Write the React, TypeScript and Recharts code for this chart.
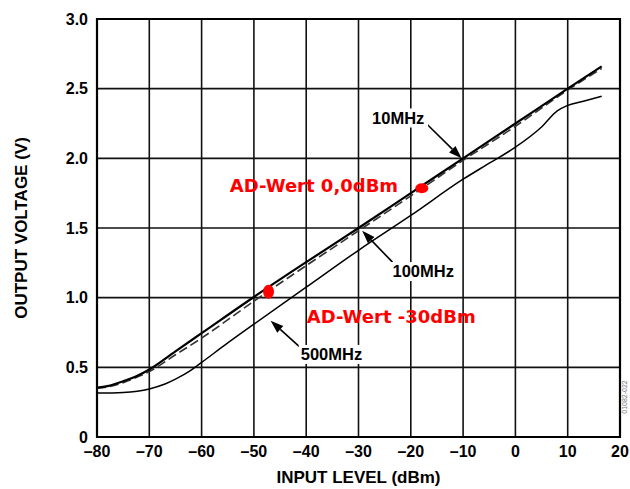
import {
  LineChart,
  Line,
  XAxis,
  YAxis,
  CartesianGrid,
  ReferenceArea,
  ReferenceDot,
  ReferenceLine,
  Label,
} from 'recharts'

const FONT = '"Liberation Sans", Arial, Helvetica, sans-serif'
const RED_FONT = '"DejaVu Sans", Verdana, sans-serif'

// input level (dBm) -> output voltage (V)
const input10MHz = [-80, -78, -75, -72, -70, -65, -60, -50, -40, -30, -20, -10, 0, 10, 16.5]
const output10MHz = [0.355, 0.365, 0.4, 0.445, 0.485, 0.615, 0.745, 1.005, 1.255, 1.5, 1.75, 2.0, 2.25, 2.5, 2.66]

const input100MHz = [-80, -78, -75, -72, -70, -65, -60, -50, -40, -30, -20, -10, 0, 10, 16.5]
const output100MHz = [0.35, 0.36, 0.39, 0.435, 0.47, 0.59, 0.71, 0.975, 1.23, 1.48, 1.73, 1.985, 2.23, 2.49, 2.645]

const input500MHz = [-80, -75, -70, -67, -65, -62, -60, -55, -50, -40, -30, -20, -10, -5, 0, 5, 8, 10, 13, 16.5]
const output500MHz = [0.315, 0.32, 0.345, 0.38, 0.415, 0.48, 0.535, 0.675, 0.81, 1.075, 1.34, 1.59, 1.85, 1.965, 2.08, 2.225, 2.34, 2.38, 2.41, 2.445]

const xTicks = [-80, -70, -60, -50, -40, -30, -20, -10, 0, 10, 20]
const yTicks = [0, 0.5, 1.0, 1.5, 2.0, 2.5, 3.0]

const series10 = input10MHz.map((x, i) => ({ x, v: output10MHz[i] }))
const series100 = input100MHz.map((x, i) => ({ x, v: output100MHz[i] }))
const series500 = input500MHz.map((x, i) => ({ x, v: output500MHz[i] }))

// curve labels: text, label anchor, arrow tail, arrow tip (data coordinates)
const curveLabels = [
  { text: '10MHz', at: [-27.4, 2.25], tail: [-16.9, 2.245], tip: [-10.3, 2.0], w: 54 },
  { text: '100MHz', at: [-23.5, 1.148], tail: [-23.5, 1.255], tip: [-29.3, 1.48], w: 63 },
  { text: '500MHz', at: [-41.05, 0.553], tail: [-41.2, 0.645], tip: [-46.8, 0.835], w: 63 },
]

// red hand-written marks
const redNotes = [
  { text: 'AD-Wert 0,0dBm', at: [-54.6, 1.758] },
  { text: 'AD-Wert -30dBm', at: [-39.9, 0.818] },
]
const redBlobs = [
  { at: [-17.9, 1.785], rx: 6.5, ry: 5 },
  { at: [-47.2, 1.043], rx: 5.5, ry: 7 },
]

const fmtX = (v: number) => (v < 0 ? `\u2013${-v}` : `${v}`)
const fmtY = (v: number) => (v === 0 ? '0' : v.toFixed(1))

function Arrow(props: any) {
  const { x1, y1, x2, y2 } = props
  const dx = x2 - x1
  const dy = y2 - y1
  const len = Math.hypot(dx, dy) || 1
  const ux = dx / len
  const uy = dy / len
  const hl = 13
  const hw = 4.5
  const bx = x2 - ux * hl
  const by = y2 - uy * hl
  return (
    <g>
      <line x1={x1} y1={y1} x2={bx} y2={by} stroke="#000" strokeWidth={1.6} />
      <polygon
        points={`${x2},${y2} ${bx - uy * hw},${by + ux * hw} ${bx + uy * hw},${by - ux * hw}`}
        fill="#000"
      />
    </g>
  )
}

export default function App() {
  return (
    <div style={{ position: 'absolute', left: 0, top: 0, width: 630, height: 489, background: '#fff' }}>
      <LineChart
        width={630}
        height={489}
        margin={{ top: 19, right: 10, bottom: 22, left: 37 }}
      >
        <CartesianGrid stroke="#111" strokeWidth={1.6} strokeOpacity={1} />
        <XAxis
          type="number"
          dataKey="x"
          domain={[-80, 20]}
          ticks={xTicks}
          tickFormatter={fmtX}
          axisLine={false}
          tickLine={false}
          tickSize={8}
          tickMargin={1}
          height={30}
          allowDataOverflow
          tick={{ fill: '#000', fontSize: 16, fontWeight: 'bold', fontFamily: FONT }}
        >
          <Label
            content={(p: any) => (
              <text
                x={p.viewBox.x + p.viewBox.width / 2}
                y={483}
                textAnchor="middle"
                fontFamily={FONT}
                fontWeight="bold"
                fontSize={17}
                fill="#000"
              >
                INPUT LEVEL (dBm)
              </text>
            )}
          />
        </XAxis>
        <YAxis
          type="number"
          domain={[0, 3]}
          ticks={yTicks}
          tickFormatter={fmtY}
          axisLine={false}
          tickLine={false}
          tickSize={8}
          tickMargin={1}
          width={60}
          tick={{ fill: '#000', fontSize: 16, fontWeight: 'bold', fontFamily: FONT }}
        >
          <Label
            content={(p: any) => {
              const cy = p.viewBox.y + p.viewBox.height / 2
              return (
                <text
                  x={27}
                  y={cy}
                  transform={`rotate(-90 27 ${cy})`}
                  textAnchor="middle"
                  fontFamily={FONT}
                  fontWeight="bold"
                  fontSize={17}
                  fill="#000"
                >
                  OUTPUT VOLTAGE (V)
                </text>
              )
            }}
          />
        </YAxis>

        <ReferenceArea x1={-80} x2={20} y1={0} y2={3} fill="none" stroke="#000" strokeWidth={2.2} ifOverflow="visible" />

        <Line
          data={series500}
          dataKey="v"
          type="monotone"
          stroke="#000"
          strokeWidth={1.5}
          dot={false}
          isAnimationActive={false}
        />
        <Line
          data={series100}
          dataKey="v"
          type="monotone"
          stroke="#333"
          strokeWidth={1.6}
          strokeDasharray="9 4"
          dot={false}
          isAnimationActive={false}
        />
        <Line
          data={series10}
          dataKey="v"
          type="monotone"
          stroke="#000"
          strokeWidth={2.2}
          dot={false}
          isAnimationActive={false}
        />

        {curveLabels.map((c) => (
          <ReferenceDot
            key={`t-${c.text}`}
            x={c.at[0]}
            y={c.at[1]}
            r={1}
            ifOverflow="visible"
            shape={(p: any) => (
              <g>
                <rect x={p.cx - 2} y={p.cy - 15} width={c.w + 4} height={19} fill="#fff" />
                <text
                  x={p.cx}
                  y={p.cy}
                  fontFamily={FONT}
                  fontWeight="bold"
                  fontSize={16.5}
                  fill="#000"
                >
                  {c.text}
                </text>
              </g>
            )}
          />
        ))}
        {curveLabels.map((c) => (
          <ReferenceLine
            key={`a-${c.text}`}
            segment={[
              { x: c.tail[0], y: c.tail[1] },
              { x: c.tip[0], y: c.tip[1] },
            ]}
            ifOverflow="visible"
            shape={Arrow}
          />
        ))}

        {redNotes.map((n) => (
          <ReferenceDot
            key={n.text}
            x={n.at[0]}
            y={n.at[1]}
            r={1}
            ifOverflow="visible"
            shape={(p: any) => (
              <text
                x={p.cx}
                y={p.cy}
                fontFamily={RED_FONT}
                fontWeight="bold"
                fontSize={18}
                fill="#ff0000"
              >
                {n.text}
              </text>
            )}
          />
        ))}
        {redBlobs.map((b, i) => (
          <ReferenceDot
            key={`b-${i}`}
            x={b.at[0]}
            y={b.at[1]}
            r={1}
            ifOverflow="visible"
            shape={(p: any) => (
              <ellipse cx={p.cx} cy={p.cy} rx={b.rx} ry={b.ry} fill="#ff0000" />
            )}
          />
        ))}
      </LineChart>
      <div
        style={{
          position: 'absolute',
          left: 600,
          top: 393,
          width: 50,
          textAlign: 'center',
          transform: 'rotate(-90deg)',
          fontFamily: FONT,
          fontSize: 7,
          color: '#777',
          lineHeight: '8px',
        }}
      >
        01082-022
      </div>
    </div>
  )
}
